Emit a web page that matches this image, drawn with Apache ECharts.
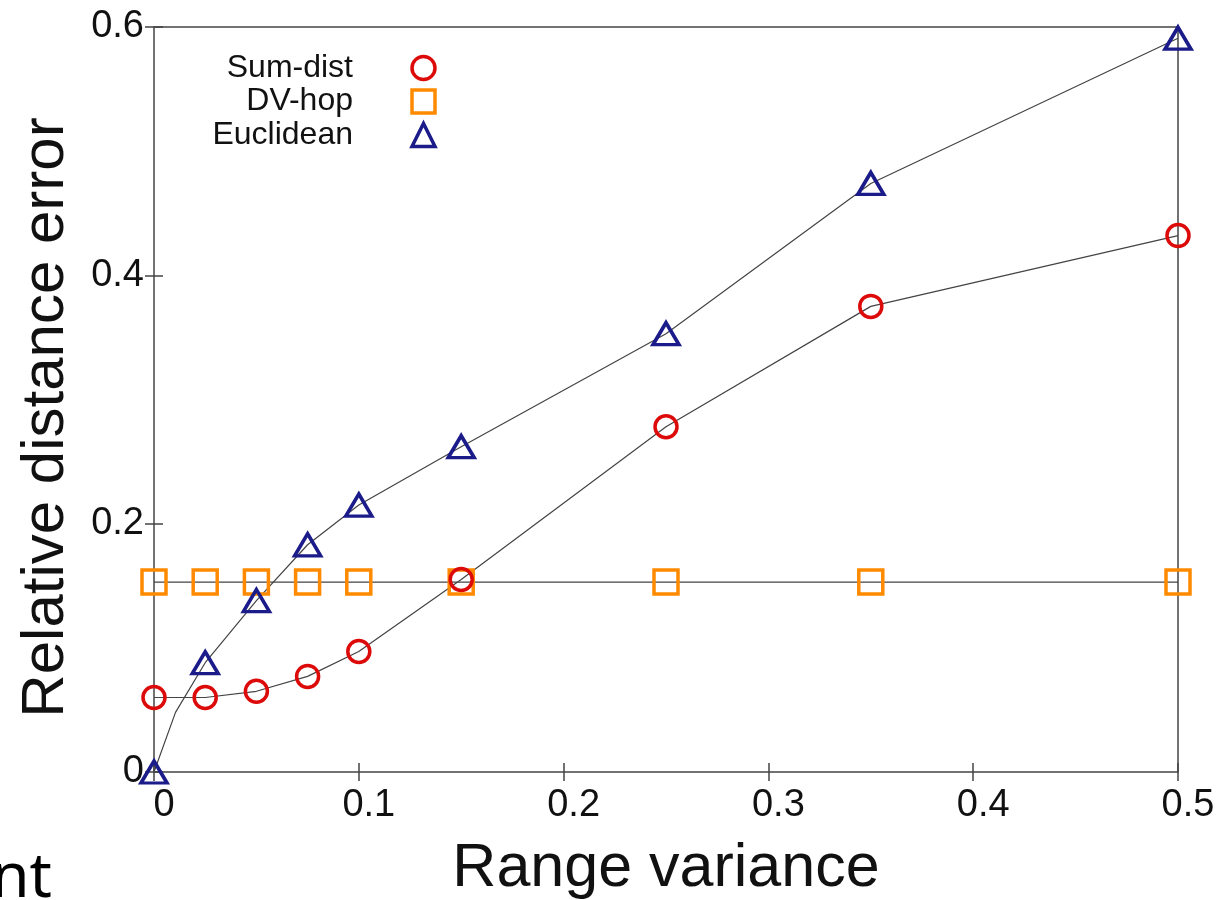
<!DOCTYPE html>
<html>
<head>
<meta charset="utf-8">
<script src="https://cdn.jsdelivr.net/npm/echarts@6/dist/echarts.min.js"></script>
<style>
  html, body { margin: 0; padding: 0; background: #fff; }
  #main { width: 1223px; height: 900px; }
</style>
</head>
<body>
<div id="main"></div>
<script>
var xValues = [0, 0.025, 0.05, 0.075, 0.1, 0.15, 0.25, 0.35, 0.5];
var sumDist = [0.060, 0.060, 0.065, 0.077, 0.097, 0.155, 0.278, 0.375, 0.432];
var dvHop = [0.153, 0.153, 0.153, 0.153, 0.153, 0.153, 0.153, 0.153, 0.153];
var euclidean = [0.0, 0.088, 0.138, 0.183, 0.215, 0.262, 0.353, 0.474, 0.591];
// bend in the Euclidean curve that has no marker
var euclidBendX = 0.0105;
var euclidBendY = 0.048;

var font = 'Liberation Sans, Arial, Helvetica, sans-serif';
var red = '#dd0a0a';
var orange = '#ff8a00';
var navy = '#1b1b8a';
var lineGray = '#444';

function pairs(xs, ys) {
    var out = [];
    for (var i = 0; i < xs.length; i++) out.push([xs[i], ys[i]]);
    return out;
}

var euclidData = pairs(xValues, euclidean);
euclidData.splice(1, 0, { value: [euclidBendX, euclidBendY], symbol: 'none' });

var chart = echarts.init(document.getElementById('main'));
var option = {
    animation: false,
    textStyle: { fontFamily: font },
    grid: {
        left: 154, right: 45, top: 27, bottom: 128,
        outerBoundsMode: 'none',
        show: true, borderColor: '#444', borderWidth: 1.5
    },
    legend: {
        orient: 'vertical',
        align: 'right',
        left: 198,
        top: 47,
        itemGap: 1.5,
        itemWidth: 23,
        itemHeight: 23,
        selectedMode: false,
        formatter: '{a|{name}}{b|}',
        textStyle: {
            fontFamily: font,
            fontSize: 32,
            lineHeight: 32,
            color: '#111',
            rich: {
                a: { width: 150, align: 'right', fontSize: 32, lineHeight: 32, fontFamily: font },
                b: { width: 54, lineHeight: 32 }
            }
        },
        data: [
            { name: 'Sum-dist', icon: 'circle', itemStyle: { color: 'rgba(0,0,0,0)', borderColor: red, borderWidth: 3.5 } },
            { name: 'DV-hop', icon: 'rect', itemStyle: { color: 'rgba(0,0,0,0)', borderColor: orange, borderWidth: 3.5 } },
            { name: 'Euclidean', icon: 'triangle', itemStyle: { color: 'rgba(0,0,0,0)', borderColor: navy, borderWidth: 3.5 } }
        ]
    },
    xAxis: [{
        type: 'value',
        min: 0, max: 0.5, interval: 0.1,
        name: 'Range variance',
        nameLocation: 'middle',
        nameGap: 67,
        nameTextStyle: { fontSize: 61, color: '#111', fontFamily: font },
        axisLine: { show: false },
        axisTick: { show: true, inside: true, length: 9, lineStyle: { color: '#444', width: 1.5 } },
        axisLabel: { fontSize: 38, color: '#111', margin: 15, padding: [0, 0, 0, 20], fontFamily: font },
        splitLine: { show: false }
    }, {
        type: 'value',
        position: 'top',
        min: 0, max: 0.5, interval: 0.1,
        axisLine: { show: false },
        axisTick: { show: true, inside: true, length: 9, lineStyle: { color: '#444', width: 1.5 } },
        axisLabel: { show: false },
        splitLine: { show: false }
    }],
    yAxis: [{
        type: 'value',
        min: 0, max: 0.6, interval: 0.2,
        name: 'Relative distance error',
        nameLocation: 'middle',
        nameGap: 78,
        nameTextStyle: { fontSize: 60, color: '#111', fontFamily: font, padding: [0, 36, 0, 0] },
        axisLine: { show: false },
        axisTick: { show: true, inside: true, length: 9, lineStyle: { color: '#444', width: 1.5 } },
        axisLabel: { fontSize: 38, color: '#111', margin: 10, fontFamily: font },
        splitLine: { show: false }
    }, {
        type: 'value',
        position: 'right',
        min: 0, max: 0.6, interval: 0.2,
        axisLine: { show: false },
        axisTick: { show: true, inside: true, length: 9, lineStyle: { color: '#444', width: 1.5 } },
        axisLabel: { show: false },
        splitLine: { show: false }
    }],
    series: [{
        name: 'DV-hop',
        type: 'line',
        data: pairs(xValues, dvHop),
        symbol: 'rect',
        symbolSize: 24,
        lineStyle: { color: lineGray, width: 1.2 },
        itemStyle: { color: 'rgba(0,0,0,0)', borderColor: orange, borderWidth: 3.5 }
    }, {
        name: 'Euclidean',
        type: 'line',
        data: euclidData,
        symbol: 'triangle',
        symbolSize: [26, 22],
        lineStyle: { color: lineGray, width: 1.2 },
        itemStyle: { color: 'rgba(0,0,0,0)', borderColor: navy, borderWidth: 3.5 }
    }, {
        name: 'Sum-dist',
        type: 'line',
        data: pairs(xValues, sumDist),
        symbol: 'circle',
        symbolSize: 22,
        lineStyle: { color: lineGray, width: 1.2 },
        itemStyle: { color: 'rgba(0,0,0,0)', borderColor: red, borderWidth: 3.5 }
    }],
    graphic: [{
        type: 'text',
        x: 52,
        y: 910,
        style: {
            text: 'nt',
            fontSize: 62,
            fontFamily: 'Noto Sans, Open Sans, sans-serif',
            fill: '#000',
            align: 'right',
            verticalAlign: 'bottom'
        }
    }]
};
chart.setOption(option);
</script>
</body>
</html>
